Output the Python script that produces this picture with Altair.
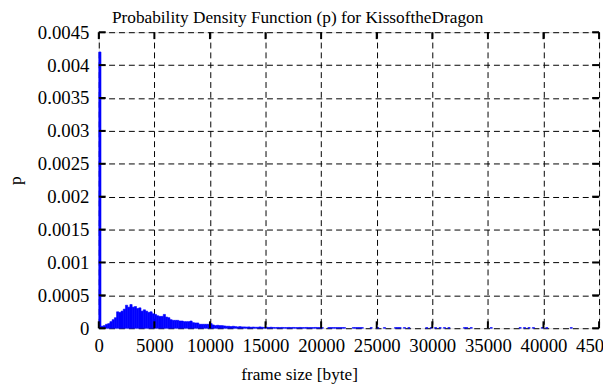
import altair as alt
import pandas as pd

title_text = "Probability Density Function (p) for KissoftheDragon"
x_title = "frame size [byte]"
y_title = "p"

# histogram bins of 200 bytes, starting at 0
bin_width = 200
main_p = [
    0.0042, 0.00003, 0.00004, 0.00006, 0.00007, 0.0001, 0.00013, 0.00016,
    0.00025, 0.00024, 0.00026, 0.00029, 0.00035, 0.00032, 0.00036, 0.00032,
    0.00033, 0.0003, 0.00031, 0.00026, 0.00028, 0.00026, 0.00024, 0.00025,
    0.00022, 0.00021, 0.00019, 0.00018, 0.00018, 0.00021, 0.00017, 0.00016,
    0.00013, 0.00012, 0.00012, 0.00012, 0.00011, 0.00011, 0.0001, 0.0001,
    0.0001, 0.00011, 0.000085, 0.00008, 0.00008, 0.00006, 0.00006, 0.00006,
    0.00006, 0.00006, 0.00007, 0.00005, 0.00004, 0.000045, 0.00004, 0.00004,
    0.000035, 0.00003, 0.00003, 0.000025, 0.00003, 0.000025, 0.00002, 0.000025,
    0.00002, 0.00002, 0.000018, 0.00002, 0.000015, 0.000018, 0.000015, 0.000015,
    0.00002, 0.000015, 0.000012, 0.000015, 0.000012, 0.000015, 0.000012, 0.00001,
    0.000012, 0.00001, 0.000012, 0.00001, 0.00001,
]
# sparse tail bins (start byte, p)
tail_start = [
    17000, 17200, 17400, 17600, 17800, 18000, 18200, 18400, 18600, 18800,
    19000, 19200, 19400, 19600, 19800, 20000, 20600, 20800, 21000, 21200,
    21400, 21600, 21800, 22000, 22800, 23000, 23200, 23400, 23600,
    24400, 25000, 25600, 26600, 26800, 27000, 27400, 27800, 29400, 29800,
    30200, 30600, 31000, 31400, 32800, 33000, 33400, 35200, 37800, 38200,
    38600, 39000, 39800, 40200, 42400,
]
tail_p = [
    0.000012, 0.00001, 0.000012, 0.00001, 0.00001, 0.000012, 0.00001, 0.00001, 0.000012, 0.00001,
    0.00001, 0.00001, 0.000012, 0.00001, 0.00001, 0.00001, 0.00001, 0.00001, 0.00001, 0.00001,
    0.00001, 0.00001, 0.00001, 0.00001, 0.00001, 0.00001, 0.00001, 0.00001, 0.00001,
    0.00001, 0.00001, 0.00001, 0.00001, 0.00001, 0.00001, 0.00001, 0.00001, 0.00001, 0.00001,
    0.00001, 0.00001, 0.00001, 0.00001, 0.00001, 0.00001, 0.00001, 0.00001, 0.00001, 0.00001,
    0.00001, 0.00001, 0.00001, 0.00001, 0.00001,
]

x_ticks = [0, 5000, 10000, 15000, 20000, 25000, 30000, 35000, 40000, 45000]
y_ticks = [0, 0.0005, 0.001, 0.0015, 0.002, 0.0025, 0.003, 0.0035, 0.004, 0.0045]

starts = [i * bin_width for i in range(len(main_p))] + tail_start
values = main_p + tail_p
df = pd.DataFrame({"start": starts, "p": values})
df["end"] = df["start"] + bin_width

xt = pd.DataFrame({"start": x_ticks})
yt = pd.DataFrame({"p": y_ticks})

W, H = 507, 300
FONT = "Liberation Serif"
LBL = 19

xscale = alt.Scale(domain=[0, 45000], nice=False, zero=True)
yscale = alt.Scale(domain=[0, 0.0045], nice=False, zero=True)

common_axis = dict(
    grid=True, gridDash=[6, 4], gridColor="black", gridOpacity=1, gridWidth=1,
    domain=False, ticks=False, tickSize=0, labelFont=FONT, labelFontSize=LBL,
    labelColor="black", labelFlush=False, labelOverlap=False,
    titleFont=FONT, titleFontSize=17.5, titleFontWeight="normal", titleColor="black",
)

xaxis = alt.Axis(values=x_ticks, format="d", labelPadding=9, title=x_title,
                 titleX=203, titleY=52, titleBaseline="alphabetic", **common_axis)
yaxis = alt.Axis(values=y_ticks, format="~g", labelPadding=10, title=y_title,
                 titleX=-84, titleY=150, titleBaseline="middle", titleAlign="center",
                 **common_axis)

X = alt.X("start:Q", scale=xscale, axis=xaxis)
Y = alt.Y("p:Q", scale=yscale, axis=yaxis)

bars = alt.Chart(df).mark_rect(color="#0000ff", stroke="#0000ff", strokeWidth=0.6).encode(
    x=X, x2="end:Q", y=Y, y2=alt.datum(0),
)

tick_style = dict(color="black", thickness=2, size=7, opacity=1)
t_bottom = alt.Chart(xt).mark_tick(**tick_style).encode(x=X, y=alt.value(H - 3.5))
t_top = alt.Chart(xt).mark_tick(**tick_style).encode(x=X, y=alt.value(3.5))
t_left = alt.Chart(yt).mark_tick(**tick_style).encode(y=Y, x=alt.value(3.5))
t_right = alt.Chart(yt).mark_tick(**tick_style).encode(y=Y, x=alt.value(W - 3.5))

chart = alt.layer(bars, t_bottom, t_top, t_left, t_right).properties(
    width=W, height=H,
    autosize=alt.AutoSizeParams(type="none"),
    padding={"left": 92, "top": 22, "right": 4, "bottom": 55},
    title=alt.TitleParams(title_text, font=FONT, fontSize=17.5, fontWeight="normal",
                          color="black", anchor="middle", dx=-52, offset=-17,
                          baseline="alphabetic", frame="group"),
).configure_view(stroke="black", strokeWidth=2).configure(
    background="white", font=FONT
).configure_axis(labelFont=FONT, titleFont=FONT, labelFontSize=LBL, titleFontSize=17.5)

chart.save("out.html", embed_options={"renderer": "svg", "actions": False})
